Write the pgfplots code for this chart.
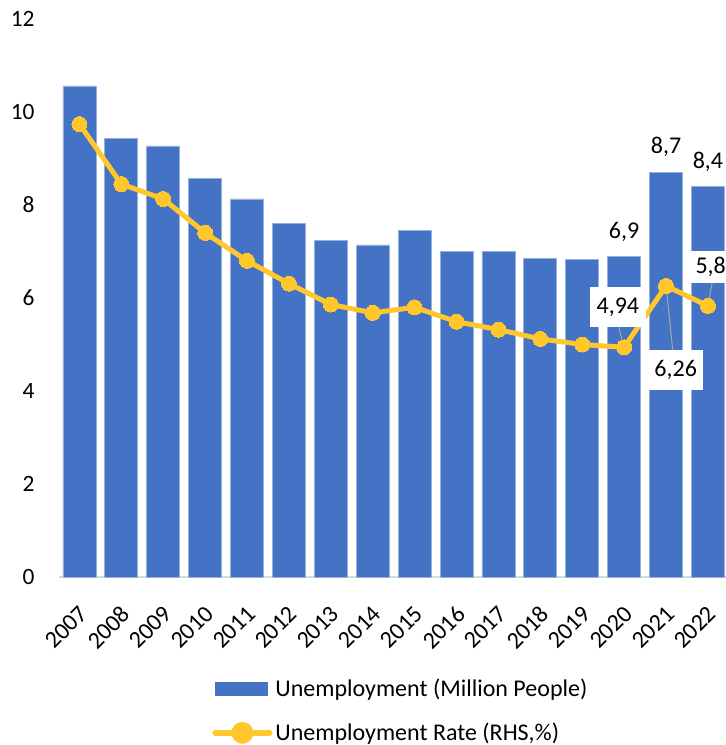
\documentclass[border=0pt]{standalone}
\usepackage{pgfplots}
\pgfplotsset{compat=1.18}
\usepackage{fontspec}
\setmainfont{Carlito}
\definecolor{barblue}{RGB}{68,114,196}
\definecolor{baredge}{RGB}{150,175,220}
\definecolor{gold}{RGB}{255,199,44}
\definecolor{leader}{RGB}{166,166,166}
\definecolor{axgray}{RGB}{217,217,217}

\pgfplotstableread{
x bars rate
0  10.56 9.74
1  9.44  8.45
2  9.27  8.13
3  8.58  7.40
4  8.13  6.80
5  7.61  6.31
6  7.23  5.86
7  7.14  5.68
8  7.45  5.80
9  7.01  5.49
10 7.01  5.32
11 6.86  5.12
12 6.82  5.00
13 6.90  4.94
14 8.70  6.26
15 8.40  5.83
}\datatable

\begin{document}
\begin{tikzpicture}
\begin{axis}[
  name=ax,
  x=20.95pt, y=23.25pt,
  xmin=-0.5, xmax=15.5, ymin=0, ymax=12,
  axis x line*=bottom, axis y line*=left,
  x axis line style={draw=axgray, line width=0.6pt},
  y axis line style={draw=none},
  tick style={draw=none},
  major tick length=0pt,
  ytick={0,2,...,12},
  xtick={0,...,15},
  xticklabels={2007,2008,2009,2010,2011,2012,2013,2014,2015,2016,2017,2018,2019,2020,2021,2022},
  /pgf/number format/assume math mode=true,
  yticklabel style={font=\fontsize{11.7}{12}\selectfont, anchor=east, inner sep=0pt, xshift=-11.75pt},
  xticklabel style={font=\fontsize{12}{12}\selectfont, rotate=45, anchor=north east, inner sep=0pt, xshift=-10pt, yshift=-9pt},
  clip=false,
  legend cell align=left,
  legend style={at={(rel axis cs:0.229,-0.176)}, anchor=north west, draw=none, fill=none,
    inner sep=0pt, font=\fontsize{12}{14}\selectfont, row sep=8.7pt,
    nodes={inner sep=1.5pt}},
]
\addplot[ybar, bar width=16.5pt, fill=barblue, draw=baredge, line width=0.4pt, bar shift=0pt,
  legend image code/.code={\fill[barblue] (0pt,-3.25pt) rectangle (26pt,3.25pt);}]
  table[x=x, y=bars] {\datatable};
\addlegendentry{Unemployment (Million People)}
\addplot[gold, line width=2.5pt, mark=*, mark size=3.75pt, mark options={fill=gold, draw=gold, line width=0pt},
  legend image code/.code={\draw[gold, line width=3pt, line cap=round] (0pt,0pt) -- (27pt,0pt); \fill[gold] (13.5pt,0pt) circle (4.2pt);}]
  table[x=x, y=rate] {\datatable};
\addlegendentry{Unemployment Rate (RHS,\%)}

% bar data labels
\node[font=\fontsize{12}{14}\selectfont] at (axis cs:13,7.42) {6,9};
\node[font=\fontsize{12}{14}\selectfont] at (axis cs:14,9.25) {8,7};
\node[font=\fontsize{12}{14}\selectfont] at (axis cs:15,8.92) {8,4};

% leader lines
\draw[leader, line width=0.5pt] (axis cs:12.87,5.38) -- (axis cs:13,4.94);
\draw[leader, line width=0.5pt] (axis cs:14,6.26) -- (axis cs:14.16,4.88);
\draw[leader, line width=0.5pt] (axis cs:15.11,6.39) -- (axis cs:15,5.83);

% rate labels
\node[fill=white, minimum width=28pt, minimum height=20pt, inner sep=0pt, font=\fontsize{12}{14}\selectfont] at (axis cs:12.85,5.81) {4,94};
\node[fill=white, minimum width=27.5pt, minimum height=20pt, inner sep=0pt, font=\fontsize{12}{14}\selectfont] at (axis cs:14.23,4.45) {6,26};
\node[fill=white, minimum width=28pt, minimum height=16pt, inner sep=0pt, font=\fontsize{12}{14}\selectfont] at (axis cs:15.21,6.67) {5,83};
\end{axis}
\pgfresetboundingbox
\path[use as bounding box] (ax.south west) ++(-29.25pt,-84pt) rectangle ++(362.5pt,372.5pt);
\end{tikzpicture}
\end{document}
